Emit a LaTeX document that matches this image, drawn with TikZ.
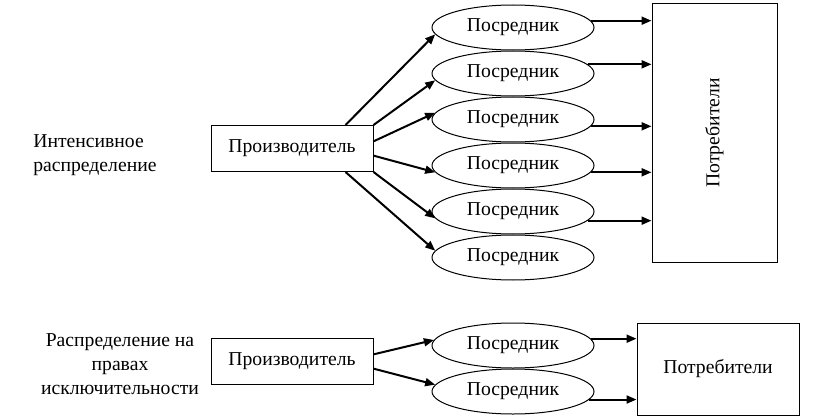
\documentclass[tikz,border=0pt]{standalone}
\usepackage{fontspec}
\setmainfont{Liberation Serif}
\usetikzlibrary{arrows.meta, positioning, calc, shapes.geometric}

\begin{document}
\begin{tikzpicture}[x=0.6pt, y=0.6pt,
                prodbox/.style={draw, line width=0.6pt, minimum width=97.2pt, minimum height=27.6pt,
                               inner sep=1pt, font=\fontsize{11.8}{14.5}\selectfont},
                midell/.style={draw, ellipse, line width=0.6pt, minimum width=97.2pt, minimum height=27pt,
                              inner sep=0pt, font=\fontsize{11.8}{14.5}\selectfont},
                consbox/.style={draw, line width=0.6pt, inner sep=1pt, font=\fontsize{11.8}{14.5}\selectfont},
                note/.style={font=\fontsize{11.8}{14.5}\selectfont, inner sep=0pt},
                link/.style={-{Triangle[length=6pt, width=4.8pt]}, line width=1.2pt}]

                \useasboundingbox (0,0) rectangle (817,417);

                % Intensive distribution: producer, six intermediaries, consumers
                \node[note, align=left, anchor=west] (labA) at (33,261.5)
                    {Интенсивное\\распределение};
                \node[prodbox] (prodA) at (292,268.5) {Производитель};

                \node[midell] (e1) at (513,389.5) {Посредник};
                \node[midell, below=0pt of e1] (e2) {Посредник};
                \node[midell, below=0pt of e2] (e3) {Посредник};
                \node[midell, below=0pt of e3] (e4) {Посредник};
                \node[midell, below=0pt of e4] (e5) {Посредник};
                \node[midell, below=0pt of e5] (e6) {Посредник};

                \node[consbox, minimum width=75pt, minimum height=154.8pt] (consA) at (714.5,284) {};
                \node[note, rotate=90] at (consA.center) {Потребители};

                % producer to intermediaries
                \draw[link] ([xshift=-16.8pt]prodA.north east) -- (e1.185);
                \draw[link] (prodA.north east) -- (e2.185);
                \draw[link] (prodA.5) -- (e3.175);
                \draw[link] (prodA.-5) -- (e4.185);
                \draw[link] (prodA.south east) -- (e5.185);
                \draw[link] ([xshift=-16.8pt]prodA.south east) -- (e6.175);

                % intermediaries to consumers
                \draw[link] (e1.5) -- (e1.5 -| consA.west);
                \draw[link] (e2.7) -- (e2.7 -| consA.west);
                \draw[link] (e3.-5) -- (e3.-5 -| consA.west);
                \draw[link] (e4.-5) -- (e4.-5 -| consA.west);
                \draw[link] (e5.-7) -- (e5.-7 -| consA.west);

                % Exclusive distribution: producer, two intermediaries, consumers
                \node[note, align=center] (labB) at (120,53)
                    {Распределение на\\правах\\исключительности};
                \node[prodbox] (prodB) at (292,55.5) {Производитель};

                \node[midell] (f1) at (513,71.5) {Посредник};
                \node[midell, below=0pt of f1] (f2) {Посредник};

                \node[consbox, minimum width=97.2pt, minimum height=55.2pt] (consB) at (718,48)
                    {Потребители};

                \draw[link] (prodB.5) -- (f1.176);
                \draw[link] (prodB.-5) -- (f2.175);
                \draw[link] (f1.5) -- (f1.5 -| consB.west);
                \draw[link] (f2.-6) -- (f2.-6 -| consB.west);
            \end{tikzpicture}
\end{document}
